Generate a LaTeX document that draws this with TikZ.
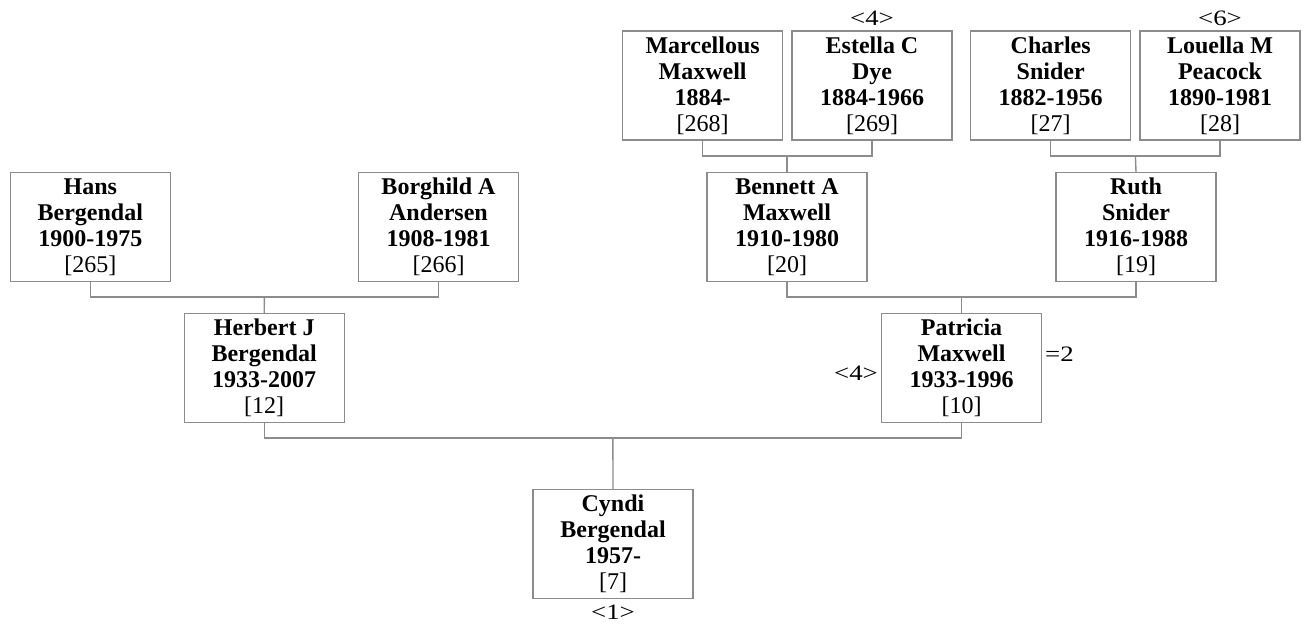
\documentclass[tikz,border=0pt]{standalone}
\usepackage{fontspec}
\setmainfont{Liberation Serif}
\definecolor{linegray}{RGB}{140,140,140}
\tikzset{
  pbox/.style={draw=linegray, line width=1.4pt, fill=white, minimum width=160pt, minimum height=109pt,
    inner sep=0pt, align=center, font=\fontsize{24}{26}\selectfont},
  conn/.style={draw=linegray, line width=1.4pt},
  lbl/.style={inner sep=0pt, font=\fontsize{22}{26}\selectfont}
}
\newcommand{\pers}[4]{\textbf{#1}\\\textbf{#2}\\\textbf{#3}\\{[#4]}}
\newcommand{\wlbl}[1]{\scalebox{1.22}[1]{#1}}
\begin{document}
\begin{tikzpicture}[x=1pt,y=-1pt]
\useasboundingbox (0,0) rectangle (1304,628);
% generation 3
\node[pbox] (marc) at (702.6,85.5) {\pers{Marcellous}{Maxwell}{1884-}{268}};
\node[pbox] (este) at (872,85.5) {\pers{Estella C}{Dye}{1884-1966}{269}};
\node[pbox] (char) at (1050.7,85.5) {\pers{Charles}{Snider}{1882-1956}{27}};
\node[pbox] (loue) at (1220,85.5) {\pers{Louella M}{Peacock}{1890-1981}{28}};
% generation 2
\node[pbox] (hans) at (90.3,227) {\pers{Hans}{Bergendal}{1900-1975}{265}};
\node[pbox] (borg) at (438.5,227) {\pers{Borghild A}{Andersen}{1908-1981}{266}};
\node[pbox] (benn) at (787,227) {\pers{Bennett A}{Maxwell}{1910-1980}{20}};
\node[pbox] (ruth) at (1136,227) {\pers{Ruth}{Snider}{1916-1988}{19}};
% generation 1
\node[pbox] (herb) at (264.2,368) {\pers{Herbert J}{Bergendal}{1933-2007}{12}};
\node[pbox] (patr) at (961.5,368) {\pers{Patricia}{Maxwell}{1933-1996}{10}};
% root
\node[pbox] (cynd) at (613,544) {\pers{Cyndi}{Bergendal}{1957-}{7}};
% labels
\node[lbl, anchor=base] (l4a) at (872,26) {\wlbl{<4>}};
\node[lbl, anchor=base] (l6) at (1220,26) {\wlbl{<6>}};
\node[lbl, anchor=base] (l1) at (613,619.5) {\wlbl{<1>}};
\node[lbl, anchor=base east] (l4b) at (878,380) {\wlbl{<4>}};
\node[lbl, anchor=base west] (l2) at (1045,361.5) {\wlbl{=2}};
% junctions
\coordinate (jA) at (787,156);
\coordinate (jB) at (1135.4,156);
\coordinate (jC) at (264.4,297);
\coordinate (jD) at (961.5,297);
\coordinate (jE) at (612.9,438);
\draw[conn] (marc.south) |- (jA) -| (este.south);
\draw[conn] (jA) -- (benn.north);
\draw[conn] (char.south) |- (jB) -| (loue.south);
\draw[conn] (jB) -- (ruth.north);
\draw[conn] (hans.south) |- (jC) -| (borg.south);
\draw[conn] (jC) -- (herb.north);
\draw[conn] (benn.south) |- (jD) -| (ruth.south);
\draw[conn] (jD) -- (patr.north);
\draw[conn] (herb.south) |- (jE) -| (patr.south);
\draw[conn] (jE) -- (cynd.north);
\end{tikzpicture}
\end{document}
